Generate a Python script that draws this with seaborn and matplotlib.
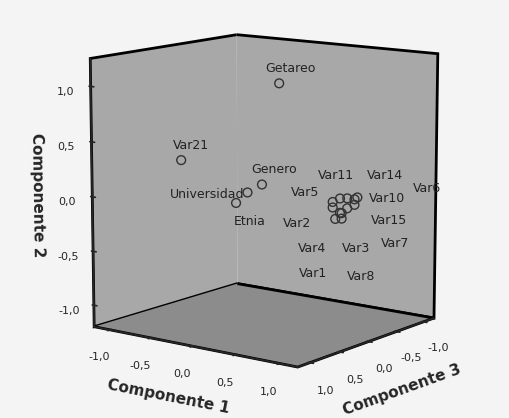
import numpy as np
import matplotlib
matplotlib.use("Agg")
import matplotlib.pyplot as plt
import seaborn as sns
from mpl_toolkits.mplot3d import proj3d

sns.set_theme(style="white")
plt.rcParams['font.family'] = ['DejaVu Sans']

labels = ['Getareo', 'Var21', 'Genero', 'Universidad', 'Etnia',
          'Var11', 'Var14', 'Var5', 'Var10', 'Var6', 'Var2', 'Var15',
          'Var4', 'Var3', 'Var7', 'Var1', 'Var8']
comp1 = [0.30, -0.95, 0.10, 0.00, -0.10,
         0.80, 0.85, 0.75, 0.90, 0.90, 0.75, 0.90,
         0.80, 0.82, 0.85, 0.78, 0.82]
comp2 = [1.05, 0.22, 0.12, 0.05, -0.05,
         0.03, 0.03, 0.00, 0.02, 0.03, -0.05, -0.03,
         -0.10, -0.10, -0.06, -0.15, -0.15]
comp3 = [0.20, 0.10, 0.20, 0.30, 0.35,
         -0.10, -0.15, -0.05, -0.20, -0.25, -0.05, -0.20,
         -0.10, -0.10, -0.15, -0.05, -0.10]
# label offsets in points (text placement only)
offs = [(-10, 8), (-6, 8), (-8, 8), (-56, -4), (-2, -16),
        (-16, 14), (14, 14), (-30, 4), (10, -2), (40, 4), (-36, -14), (12, -14),
        (-30, -28), (0, -28), (24, -28), (-26, -42), (4, -44)]

fig = plt.figure(figsize=(5.09, 4.18), dpi=100)
fig.patch.set_facecolor('#f4f4f4')
ax = fig.add_axes([-0.04, 0.02, 1.10, 1.02], projection='3d', proj_type='persp')
ax.set_facecolor('#f4f4f4')
ax.view_init(elev=11, azim=-53)
ax.set_xlim(-1.2, 1.2)
ax.set_ylim(1.2, -1.2)
ax.set_zlim(-1.2, 1.25)
ax.set_box_aspect((1.4, 1.3, 1.5))

ax.scatter(comp1, comp3, comp2, s=40, facecolors='none', edgecolors='#333333',
           linewidths=1.0, depthshade=False)
fig.canvas.draw()
for lab, x, y, z, (dx, dy) in zip(labels, comp1, comp3, comp2, offs):
    px, py, _ = proj3d.proj_transform(x, y, z, ax.get_proj())
    ax.annotate(lab, xy=(px, py), xycoords='data', xytext=(dx, dy),
                textcoords='offset points', fontsize=9, color='#222222')

for axis, c in [(ax.xaxis, '#a8a8a8'), (ax.yaxis, '#a8a8a8'), (ax.zaxis, '#8c8c8c')]:
    axis.set_pane_color(c)
    axis.pane.set_edgecolor('black')
    axis.pane.set_linewidth(2)
ax.grid(False)

ticks = [-1.0, -0.5, 0.0, 0.5, 1.0]
tl = ['-1,0', '-0,5', '0,0', '0,5', '1,0']
ax.set_xticks(ticks); ax.set_xticklabels(tl, fontsize=8)
ax.set_yticks(ticks); ax.set_yticklabels(tl, fontsize=8)
ax.set_zticks(ticks); ax.set_zticklabels(tl, fontsize=8)
ax.zaxis._axinfo['juggled'] = (1, 2, 0)
ax.set_xlabel('Componente 1', fontsize=11, fontweight='bold', labelpad=4)
ax.set_ylabel('Componente 3', fontsize=11, fontweight='bold', labelpad=4)
ax.set_zlabel('Componente 2', fontsize=11, fontweight='bold')

fig.savefig('out.png', dpi=100)
